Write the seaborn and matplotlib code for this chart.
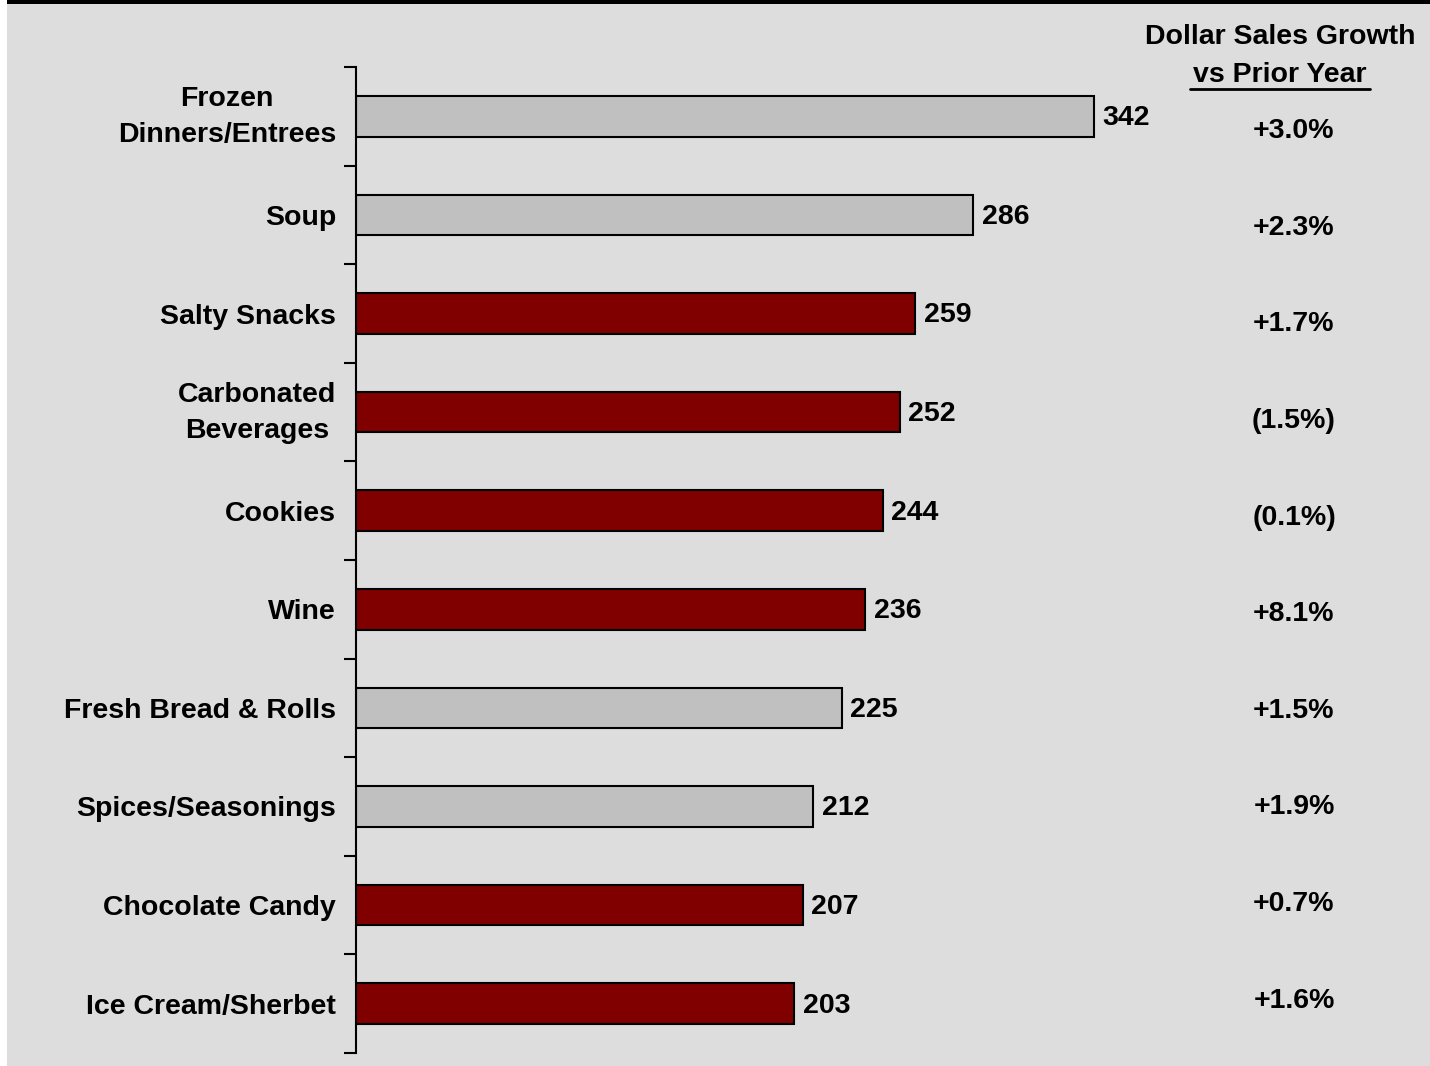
import matplotlib
matplotlib.use("Agg")
import matplotlib.pyplot as plt
import matplotlib.transforms as mtransforms
import seaborn as sns
import pandas as pd
from matplotlib.patches import Rectangle

# Category data
categories = [
    "Frozen\nDinners/Entrees", "Soup", "Salty Snacks", "Carbonated\nBeverages",
    "Cookies", "Wine", "Fresh Bread & Rolls", "Spices/Seasonings",
    "Chocolate Candy", "Ice Cream/Sherbet",
]
sales = [342, 286, 259, 252, 244, 236, 225, 212, 207, 203]
growth = ["+3.0%", "+2.3%", "+1.7%", "(1.5%)", "(0.1%)", "+8.1%",
          "+1.5%", "+1.9%", "+0.7%", "+1.6%"]
highlight = [False, False, True, True, True, True, False, False, True, True]

GRAY = "#C0C0C0"
RED = "#800000"
BG = "#DDDDDD"
FS = 20.5

sns.set_theme(style="white")
plt.rcParams["font.family"] = ["Liberation Sans", "DejaVu Sans"]
plt.rcParams["font.weight"] = "bold"

df = pd.DataFrame({"category": categories, "sales": sales,
                   "group": ["hi" if h else "lo" for h in highlight]})

W, H = 1430, 1066
fig = plt.figure(figsize=(W / 100, H / 100), dpi=100)
fig.patch.set_facecolor(BG)

# white margin on the left, black band on top
fig.add_artist(Rectangle((0, 0), 7 / W, 1, transform=fig.transFigure,
                         facecolor="white", edgecolor="none", zorder=0))
fig.add_artist(Rectangle((7 / W, 1 - 4 / H), 1, 4 / H, transform=fig.transFigure,
                         facecolor="black", edgecolor="none", zorder=5))

px_per_unit = (1094 - 356) / 342.0
xmax = 400
left, top, bottom = 356, 67, 1053
ax = fig.add_axes([left / W, 1 - bottom / H, xmax * px_per_unit / W, (bottom - top) / H])
ax.set_facecolor("none")

sns.barplot(data=df, y="category", x="sales", hue="group", orient="h",
            palette={"hi": RED, "lo": GRAY}, order=categories,
            width=0.41, dodge=False, legend=False, ax=ax,
            edgecolor="black", linewidth=1.5, saturation=1)

ax.set_xlim(0, xmax)
ax.set_ylim(len(categories) - 0.5, -0.5)
ax.set_xlabel("")
ax.set_ylabel("")
ax.set_xticks([])
for s in ["top", "right", "bottom"]:
    ax.spines[s].set_visible(False)
ax.spines["left"].set_color("black")
ax.spines["left"].set_linewidth(1.5)

# category labels, right-aligned left of the axis line
ax.set_yticks(range(len(categories)))
ax.set_yticklabels([])
ax.tick_params(axis="y", which="major", length=0)
label_tf = mtransforms.blended_transform_factory(ax.transAxes, ax.transData)
for i, name in enumerate(categories):
    tf = label_tf + mtransforms.ScaledTranslation(-20 / 100, 0, fig.dpi_scale_trans)
    if "\n" in name:
        tf = tf + mtransforms.ScaledTranslation(0, 7 / 100, fig.dpi_scale_trans)
    ax.text(0, i, name, transform=tf, ha="right", va="center_baseline",
            multialignment="center", linespacing=1.5, fontsize=FS,
            fontweight="bold", color="black")

ax.set_yticks([i - 0.5 for i in range(len(categories) + 1)], minor=True)
ax.tick_params(axis="y", which="minor", length=9, width=1.5, color="black", left=True)

# value labels at bar ends
for i, v in enumerate(sales):
    ax.text(v + 4, i + 0.02, f"{v}", va="center", ha="left", fontsize=FS,
            fontweight="bold", color="black")

# growth column
gx = 1294 / W
n = len(categories)
for i, g in enumerate(growth):
    drift = 0.15 - 0.18 * i / (n - 1)
    y_disp = ax.transData.transform((0, i + drift))[1]
    ax.text(gx, y_disp / H, g, transform=fig.transFigure, ha="center",
            va="center", fontsize=FS, fontweight="bold", color="black")

fig.text(1280 / W, 1 - 37 / H, "Dollar Sales Growth", ha="center", va="center",
         fontsize=FS, fontweight="bold", color="black")
fig.text(1280 / W, 1 - 75 / H, "vs Prior Year", ha="center", va="center",
         fontsize=FS, fontweight="bold", color="black")
fig.add_artist(plt.Line2D([1190 / W, 1370 / W], [1 - 89 / H, 1 - 89 / H],
                          transform=fig.transFigure, color="black", linewidth=2))

fig.savefig("out.png", dpi=100, facecolor=fig.get_facecolor())
